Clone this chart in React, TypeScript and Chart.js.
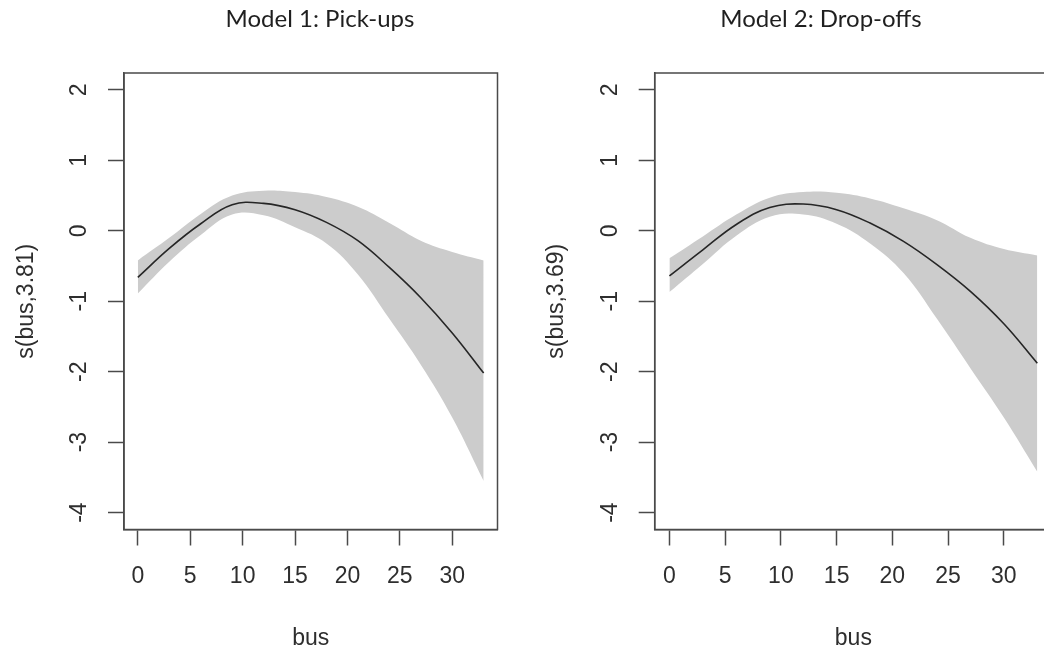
import React, { useEffect, useRef } from "react";
import { Chart, registerables } from "chart.js";

Chart.register(...registerables);

// ---- data ----
const busX = [0, 3, 6, 9, 12, 15, 18, 21, 24, 27, 30, 33];

const pickFit = [-0.66, -0.25, 0.1, 0.37, 0.39, 0.3, 0.12, -0.14, -0.52, -0.95, -1.45, -2.02];
const pickUpper = [-0.42, -0.1, 0.24, 0.5, 0.57, 0.55, 0.48, 0.34, 0.11, -0.14, -0.3, -0.42];
const pickLower = [-0.89, -0.44, -0.06, 0.23, 0.22, 0.05, -0.18, -0.62, -1.25, -1.9, -2.65, -3.55];

const dropFit = [-0.64, -0.27, 0.09, 0.33, 0.38, 0.3, 0.11, -0.15, -0.48, -0.86, -1.32, -1.88];
const dropUpper = [-0.39, -0.08, 0.23, 0.47, 0.55, 0.54, 0.46, 0.32, 0.15, -0.1, -0.26, -0.35];
const dropLower = [-0.87, -0.47, -0.07, 0.2, 0.23, 0.1, -0.18, -0.6, -1.25, -1.95, -2.65, -3.42];

const xTicks = [0, 5, 10, 15, 20, 25, 30];
const yTicks = [-4, -3, -2, -1, 0, 1, 2];
const panelTitles = ["Model 1: Pick-ups", "Model 2: Drop-offs"];
const yTitles = ["s(bus,3.81)", "s(bus,3.69)"];
const xTitle = "bus";

const X_MIN = -1.32;
const X_MAX = 34.32;
const Y_MIN = -4.24;
const Y_MAX = 2.24;

const AXIS_FONT = { family: "'Liberation Sans', Arial, sans-serif", size: 23 };
const TEXT_COLOR = "#2e2e2e";
const FRAME_COLOR = "#4a4a4a";
const CURVE_TENSION = 0.4;

type PanelProps = {
  fit: number[];
  upper: number[];
  lower: number[];
  title: string;
  yTitle: string;
  canvasLeft: number;
  canvasWidth: number;
  areaLeft: number;
  areaRight: number;
  titleX: number;
  yTitlePad: number;
};

const toPts = (ys: number[]) => busX.map((x, i) => ({ x, y: ys[i] }));

function Panel(p: PanelProps) {
  const ref = useRef<HTMLCanvasElement | null>(null);

  useEffect(() => {
    if (!ref.current) return;
    const framePlugin = {
      id: "frameAndTitle",
      afterDraw(chart: any) {
        const { ctx, chartArea } = chart;
        ctx.save();
        ctx.strokeStyle = FRAME_COLOR;
        ctx.lineWidth = 1.5;
        ctx.strokeRect(
          chartArea.left,
          chartArea.top,
          chartArea.right - chartArea.left,
          chartArea.bottom - chartArea.top
        );
        ctx.fillStyle = "#1f1f1f";
        ctx.font = "24px Lato, 'Open Sans', sans-serif";
        ctx.textAlign = "center";
        ctx.textBaseline = "alphabetic";
        ctx.fillText(p.title, p.titleX, 27);
        ctx.restore();
      },
    };

    const chart = new Chart(ref.current, {
      type: "line",
      data: {
        datasets: [
          {
            label: "fit",
            data: toPts(p.fit),
            borderWidth: 1.6,
            borderColor: "#262626",
            pointRadius: 0,
            fill: false,
            tension: CURVE_TENSION,
          },
          {
            label: "upper",
            data: toPts(p.upper),
            borderWidth: 0,
            borderColor: "rgba(0,0,0,0)",
            backgroundColor: "#cccccc",
            pointRadius: 0,
            fill: "+1",
            tension: CURVE_TENSION,
          },
          {
            label: "lower",
            data: toPts(p.lower),
            borderWidth: 0,
            borderColor: "rgba(0,0,0,0)",
            backgroundColor: "#cccccc",
            pointRadius: 0,
            fill: false,
            tension: CURVE_TENSION,
          },
        ],
      },
      options: {
        animation: false,
        responsive: false,
        maintainAspectRatio: false,
        layout: {
          padding: { top: 73, right: p.canvasWidth - p.areaRight, bottom: 0, left: 0 },
        },
        plugins: {
          legend: { display: false },
          tooltip: { enabled: false },
          title: { display: false },
        },
        scales: {
          x: {
            type: "linear",
            min: X_MIN,
            max: X_MAX,
            afterBuildTicks: (axis: any) => {
              axis.ticks = xTicks.map((v) => ({ value: v }));
            },
            afterFit: (axis: any) => {
              axis.height = 123.5;
            },
            ticks: {
              font: AXIS_FONT,
              color: TEXT_COLOR,
              padding: 17,
              autoSkip: false,
              maxRotation: 0,
              minRotation: 0,
              callback: (v: any) => String(v),
            },
            grid: {
              drawOnChartArea: false,
              drawTicks: true,
              tickLength: 16,
              tickColor: FRAME_COLOR,
              tickWidth: 1.5,
              color: FRAME_COLOR,
            },
            border: { display: true, color: FRAME_COLOR, width: 1.5 },
            title: {
              display: true,
              text: xTitle,
              font: AXIS_FONT,
              color: TEXT_COLOR,
              padding: { top: 0, bottom: 1 },
            },
          },
          y: {
            type: "linear",
            min: Y_MIN,
            max: Y_MAX,
            afterBuildTicks: (axis: any) => {
              axis.ticks = yTicks.map((v) => ({ value: v }));
            },
            afterFit: (axis: any) => {
              axis.width = p.areaLeft;
            },
            ticks: {
              font: AXIS_FONT,
              color: TEXT_COLOR,
              padding: 18,
              autoSkip: false,
              minRotation: 90,
              maxRotation: 90,
              crossAlign: "center",
              callback: (v: any) => String(v),
            },
            grid: {
              drawOnChartArea: false,
              drawTicks: true,
              tickLength: 16,
              tickColor: FRAME_COLOR,
              tickWidth: 1.5,
              color: FRAME_COLOR,
            },
            border: { display: true, color: FRAME_COLOR, width: 1.5 },
            title: {
              display: true,
              text: p.yTitle,
              font: AXIS_FONT,
              color: TEXT_COLOR,
              padding: { top: p.yTitlePad, bottom: 0 },
            },
          },
        },
      } as any,
      plugins: [framePlugin],
    });
    return () => chart.destroy();
  }, []);

  return (
    <canvas
      ref={ref}
      width={p.canvasWidth}
      height={653}
      style={{
        position: "absolute",
        left: p.canvasLeft,
        top: 0,
        width: p.canvasWidth,
        height: 653,
      }}
    />
  );
}

export default function App() {
  return (
    <div
      style={{
        position: "absolute",
        left: 0,
        top: 0,
        width: 1044,
        height: 653,
        overflow: "hidden",
        background: "#ffffff",
      }}
    >
      <Panel
        fit={pickFit}
        upper={pickUpper}
        lower={pickLower}
        title={panelTitles[0]}
        yTitle={yTitles[0]}
        canvasLeft={0}
        canvasWidth={522}
        areaLeft={124}
        areaRight={497.5}
        titleX={320}
        yTitlePad={13}
      />
      <Panel
        fit={dropFit}
        upper={dropUpper}
        lower={dropLower}
        title={panelTitles[1]}
        yTitle={yTitles[1]}
        canvasLeft={522}
        canvasWidth={548}
        areaLeft={132.7}
        areaRight={530}
        titleX={299}
        yTitlePad={21}
      />
    </div>
  );
}
